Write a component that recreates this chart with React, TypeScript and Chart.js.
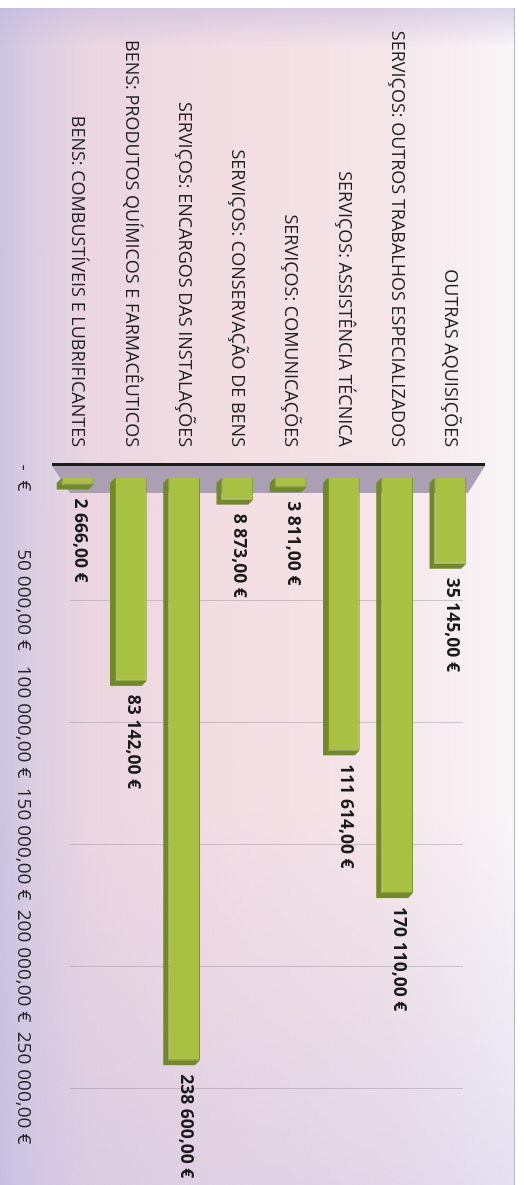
import React, { useEffect, useRef } from "react";
import { Chart, registerables } from "chart.js";

Chart.register(...registerables);

const categories = [
  "OUTRAS AQUISIÇÕES",
  "SERVIÇOS: OUTROS TRABALHOS ESPECIALIZADOS",
  "SERVIÇOS: ASSISTÊNCIA TÉCNICA",
  "SERVIÇOS: COMUNICAÇÕES",
  "SERVIÇOS: CONSERVAÇÃO DE BENS",
  "SERVIÇOS: ENCARGOS DAS INSTALAÇÕES",
  "BENS: PRODUTOS QUÍMICOS E FARMACÊUTICOS",
  "BENS: COMBUSTÍVEIS E LUBRIFICANTES",
];

const values = [35145, 170110, 111614, 3811, 8873, 238600, 83142, 2666];

const tickValues = [0, 50000, 100000, 150000, 200000, 250000];

const FONT = "'Open Sans', 'DejaVu Sans', sans-serif";

function fmt(v: number): string {
  if (v === 0) return "-  €";
  const s = Math.round(v)
    .toString()
    .replace(/\B(?=(\d{3})+(?!\d))/g, " ");
  return s + ",00 €";
}

const decoPlugin = {
  id: "deco3d",
  beforeDatasetsDraw(chart: any) {
    const ctx = chart.ctx;
    const xs = chart.scales.x;
    const { left, top, bottom } = chart.chartArea;
    ctx.save();
    // back wall gridlines
    ctx.strokeStyle = "rgba(150,145,160,0.45)";
    ctx.lineWidth = 1;
    for (const v of tickValues) {
      if (v === 0) continue;
      const px = Math.round(xs.getPixelForValue(v)) + 0.5;
      ctx.beginPath();
      ctx.moveTo(px, top + 14);
      ctx.lineTo(px, bottom - 19);
      ctx.stroke();
    }
    // floor band
    ctx.fillStyle = "#ab9fb3";
    ctx.beginPath();
    ctx.moveTo(left - 12, top - 8);
    ctx.lineTo(left + 15, top + 9);
    ctx.lineTo(left + 15, bottom - 19);
    ctx.lineTo(left - 12, bottom - 1);
    ctx.closePath();
    ctx.fill();
    // axis line
    ctx.fillStyle = "#1c1c1c";
    ctx.fillRect(left - 15, top - 8, 3, bottom - top + 7);
    // depth faces of bars
    const meta = chart.getDatasetMeta(0);
    meta.data.forEach((bar: any) => {
      const p = bar.getProps(["x", "y", "base", "height"], true);
      const t = p.y - p.height / 2;
      ctx.fillStyle = "#71892a";
      ctx.beginPath();
      ctx.moveTo(p.base, t + p.height);
      ctx.lineTo(p.base + 5, t + p.height + 5);
      ctx.lineTo(p.x + 5, t + p.height + 5);
      ctx.lineTo(p.x + 5, t + 5);
      ctx.lineTo(p.x, t);
      ctx.lineTo(p.x, t + p.height);
      ctx.closePath();
      ctx.fill();
    });
    ctx.restore();
  },
  afterDatasetsDraw(chart: any) {
    const ctx = chart.ctx;
    const meta = chart.getDatasetMeta(0);
    ctx.save();
    ctx.font = "bold 17.5px " + FONT;
    ctx.fillStyle = "#1a1a1a";
    ctx.textAlign = "left";
    ctx.textBaseline = "middle";
    meta.data.forEach((bar: any, i: number) => {
      const p = bar.getProps(["x", "y"], true);
      ctx.fillText(fmt(values[i]), p.x + 14, p.y - 2);
    });
    ctx.restore();
  },
};

export default function App() {
  const ref = useRef<HTMLCanvasElement | null>(null);

  useEffect(() => {
    document.body.style.margin = "0";
    const canvas = ref.current;
    if (!canvas) return;
    const chart = new Chart(canvas, {
      type: "bar",
      data: {
        labels: categories,
        datasets: [
          {
            data: values,
            backgroundColor: "#a9c142",
            borderColor: "#7d982b",
            borderWidth: 1,
            barPercentage: 0.6,
            categoryPercentage: 1,
          },
        ],
      },
      options: {
        indexAxis: "y",
        responsive: false,
        animation: false,
        devicePixelRatio: 1,
        layout: { padding: { left: 0, right: 97, top: 47, bottom: 0 } },
        plugins: {
          legend: { display: false },
          tooltip: { enabled: false },
          title: { display: false },
        },
        scales: {
          x: {
            type: "linear",
            min: 0,
            max: 250000,
            afterFit: (scale: any) => {
              scale.height = 51;
            },
            afterBuildTicks: (scale: any) => {
              scale.ticks = tickValues.map((v) => ({ value: v }));
            },
            grid: { display: false, drawTicks: false },
            border: { display: false },
            ticks: {
              padding: 16,
              color: "#262626",
              font: { family: FONT, size: 19 },
              maxRotation: 0,
              autoSkip: false,
              callback: (v: any) => fmt(Number(v)),
            },
          },
          y: {
            afterFit: (scale: any) => {
              scale.width = 478;
            },
            grid: { display: false, drawTicks: false },
            border: { display: false },
            ticks: {
              padding: 31,
              color: "#222222",
              autoSkip: false,
              font: { family: FONT, size: 18 },
            },
          },
        },
      },
      plugins: [decoPlugin],
    });
    return () => chart.destroy();
  }, []);

  return (
    <div
      style={{
        position: "fixed",
        left: 0,
        top: 0,
        width: 524,
        height: 1185,
        background: "#ffffff",
        overflow: "hidden",
      }}
    >
      <div
        style={{
          position: "absolute",
          left: 0,
          top: 8,
          width: 514,
          height: 1177,
          borderRight: "1px solid #b9b6c2",
          background:
            "linear-gradient(to bottom, rgba(195,185,222,0.55) 0px, rgba(195,185,222,0) 40px, rgba(255,255,255,0) 800px, rgba(190,185,228,0.35) 1177px), linear-gradient(to right, #c9c4e0 0px, #d9cde2 30px, #ebd6e0 90px, #f2dde3 220px, #f5e5e9 380px, #f8f0f3 470px, #faf6f8 514px)",
        }}
      />
      <canvas
        ref={ref}
        width={1185}
        height={524}
        style={{
          position: "absolute",
          left: 0,
          top: 0,
          width: 1185,
          height: 524,
          transformOrigin: "0 0",
          transform: "translate(524px, 0px) rotate(90deg)",
        }}
      />
    </div>
  );
}
